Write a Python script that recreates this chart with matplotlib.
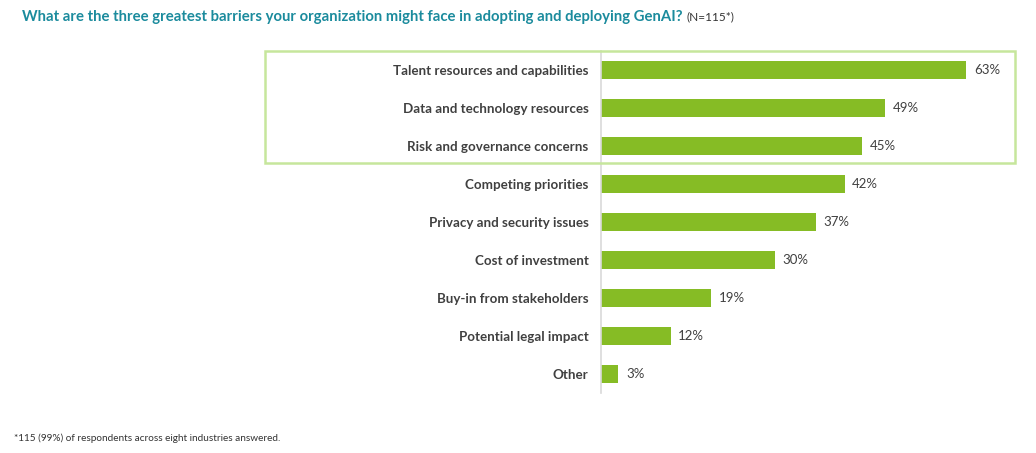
import matplotlib
matplotlib.use("Agg")
import matplotlib.pyplot as plt
from matplotlib.patches import Rectangle

categories = ["Talent resources and capabilities", "Data and technology resources",
              "Risk and governance concerns", "Competing priorities",
              "Privacy and security issues", "Cost of investment",
              "Buy-in from stakeholders", "Potential legal impact", "Other"]
values = [63, 49, 45, 42, 37, 30, 19, 12, 3]

W, H = 1036, 453
fig = plt.figure(figsize=(W / 100, H / 100), dpi=100)
plt.rcParams['font.family'] = ['Lato', 'DejaVu Sans']

ax_left, ax_right, ax_top, ax_bot = 601, 1007, 51, 393
ax = fig.add_axes([ax_left / W, 1 - ax_bot / H, (ax_right - ax_left) / W, (ax_bot - ax_top) / H])
y = list(range(len(categories)))
ax.barh(y, values, height=0.47, color="#86bc25")
ax.set_ylim(len(categories) - 0.5, -0.5)
ax.set_xlim(0, 70)
for s in ["top", "right", "bottom"]:
    ax.spines[s].set_visible(False)
ax.spines["left"].set_color("#d9d9d9")
ax.spines["left"].set_linewidth(1.2)
ax.set_xticks([])
ax.set_yticks(y)
ax.set_yticklabels(categories, fontsize=9.6, fontweight="bold", color="#404040")
ax.tick_params(axis="y", length=0, pad=9)
for yi, v in zip(y, values):
    ax.text(v + 1.3, yi, f"{v}%", va="center", ha="left", fontsize=9.5, color="#404040")

# highlight box
fig.patches.append(Rectangle((265 / W, 1 - 163 / H), (1015 - 265) / W, (163 - 51) / H,
                             transform=fig.transFigure, fill=False, edgecolor="#c6e69c",
                             linewidth=1.8))

t = fig.text(22 / W, 1 - 17 / H, "What are the three greatest barriers your organization might face in adopting and deploying GenAI?",
             fontsize=10.75, fontweight="bold", color="#1b8b9d", va="center", ha="left")
fig.canvas.draw()
bb = t.get_window_extent()
fig.text((bb.x1 + 4) / W, 1 - 17 / H, "(N=115*)", fontsize=8.5, color="#333333", va="center", ha="left")

fig.text(14 / W, 1 - 438 / H, "*115 (99%) of respondents across eight industries answered.",
         fontsize=7.2, color="#333333", va="center", ha="left")

fig.savefig("out.png", dpi=100)
